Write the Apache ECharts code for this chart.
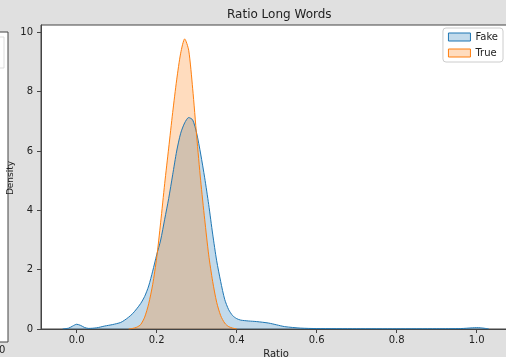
<!DOCTYPE html>
<html>
<head>
<meta charset="utf-8">
<script src="https://cdn.jsdelivr.net/npm/echarts@6/dist/echarts.min.js"></script>
<style>html,body{margin:0;padding:0;background:#e0e0e0;}#c{width:506px;height:357px;}</style>
</head>
<body>
<div id="c"></div>
<script>
// Data (KDE curves)
const fakeX = [-0.035,-0.02,-0.01,0.0,0.01,0.02,0.03,0.05,0.07,0.09,0.11,0.12,0.13,0.14,0.15,0.16,0.17,0.18,0.19,0.20,0.21,0.22,0.23,0.24,0.25,0.26,0.27,0.28,0.29,0.30,0.31,0.32,0.33,0.34,0.35,0.36,0.37,0.38,0.39,0.40,0.41,0.43,0.45,0.48,0.50,0.52,0.56,0.6,0.7,0.8,0.9,0.96,0.99,1.0,1.01,1.03];
const fakeY = [0,0.03,0.1,0.16,0.12,0.05,0.02,0.04,0.1,0.15,0.22,0.3,0.4,0.52,0.68,0.86,1.1,1.45,1.95,2.5,3.0,3.7,4.4,5.2,6.0,6.6,6.95,7.13,7.05,6.6,5.9,5.1,4.2,3.2,2.3,1.6,1.0,0.65,0.45,0.35,0.3,0.27,0.25,0.2,0.14,0.08,0.03,0.015,0.01,0.008,0.01,0.015,0.04,0.045,0.04,0.005];
const trueX = [0.13,0.14,0.15,0.16,0.17,0.18,0.19,0.20,0.21,0.22,0.23,0.24,0.25,0.26,0.27,0.28,0.29,0.30,0.31,0.32,0.33,0.34,0.35,0.36,0.37,0.38,0.39,0.40];
const trueY = [0,0.02,0.06,0.15,0.4,0.85,1.5,2.4,3.6,4.9,6.1,7.3,8.4,9.3,9.78,9.4,8.1,6.5,5.0,3.7,2.5,1.6,0.9,0.45,0.2,0.08,0.03,0];
const xTicks = [0.0,0.2,0.4,0.6,0.8,1.0];
const yTicks = [0,2,4,6,8,10];
const seriesNames = ['Fake','True'];
const colors = ['#1f77b4','#ff7f0e'];
const fills = ['rgba(31,119,180,0.27)','rgba(255,127,14,0.27)'];

const zip = (a,b) => a.map((v,i)=>[v,b[i]]);
const chart = echarts.init(document.getElementById('c'));
const font = 'DejaVu Sans';
chart.setOption({
  backgroundColor: '#e0e0e0',
  animation: false,
  title: {text:'Ratio Long Words', left: 222, top: 4,
    textStyle:{fontFamily:font,fontSize:12,fontWeight:'normal',color:'#222'}},
  grid: {left:41, top:25, width:470, height:304, containLabel:false, outerBoundsMode:'none',
    show:true, backgroundColor:'#fff', borderColor:'#444', borderWidth:1},
  legend: {orient:'vertical', right:3, top:28, padding:[4,5], itemGap:6, itemWidth:22, itemHeight:8,
    backgroundColor:'#fff', borderColor:'#ccc', borderWidth:1, borderRadius:3,
    textStyle:{fontFamily:font,fontSize:10,color:'#222'},
    data: seriesNames.map((n,i)=>({name:n, icon:'rect', itemStyle:{color:fills[i], borderColor:colors[i], borderWidth:1}}))},
  xAxis: {type:'value', min:-0.0892, max:1.0858, name:'Ratio', nameLocation:'middle', nameGap:19,
    nameTextStyle:{fontFamily:font,fontSize:10,color:'#222'},
    axisLine:{show:true,onZero:false,lineStyle:{color:'#444'}},
    axisTick:{show:true,length:4,lineStyle:{color:'#444'},customValues:xTicks},
    axisLabel:{fontFamily:font,fontSize:10,color:'#222',margin:6,customValues:xTicks,formatter:v=>v.toFixed(1)},
    splitLine:{show:false}},
  yAxis: {type:'value', min:0, max:10.25,
    axisLine:{show:true,onZero:false,lineStyle:{color:'#444'}},
    axisTick:{show:true,length:4,lineStyle:{color:'#444'},customValues:yTicks},
    axisLabel:{fontFamily:font,fontSize:10,color:'#222',margin:8,customValues:yTicks},
    splitLine:{show:false}},
  series: [
    {name:seriesNames[0], type:'line', data:zip(fakeX,fakeY), smooth:0.25, symbol:'none',
      lineStyle:{color:colors[0],width:1}, itemStyle:{color:colors[0]}, areaStyle:{color:fills[0], opacity:1}},
    {name:seriesNames[1], type:'line', data:zip(trueX,trueY), smooth:0.25, symbol:'none',
      lineStyle:{color:colors[1],width:1}, itemStyle:{color:colors[1]}, areaStyle:{color:fills[1], opacity:1}}
  ],
  graphic: [
    {type:'rect', shape:{x:-2,y:32,width:10,height:310}, style:{fill:'#fff',stroke:'#444',lineWidth:1}, z:-1},
    {type:'rect', shape:{x:-5,y:37,width:9,height:31}, style:{fill:'#fff',stroke:'#ddd',lineWidth:1}},
    {type:'text', left:-1, top:345, style:{text:'0',font:'10px DejaVu Sans',fill:'#222'}},
    {type:'text', x:11, y:178, rotation:Math.PI/2, style:{text:'Density',font:'9px DejaVu Sans',fill:'#222',align:'center',verticalAlign:'middle'}}
  ]
});
</script>
</body>
</html>
